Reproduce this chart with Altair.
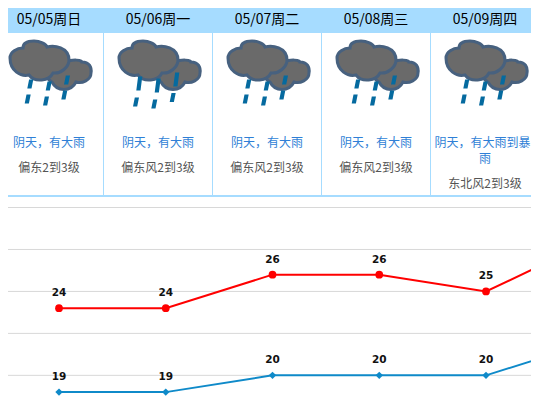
import altair as alt
import pandas as pd

dates = ["05/05周日", "05/06周一", "05/07周二", "05/08周三", "05/09周四"]
weather = ["阴天，有大雨", "阴天，有大雨", "阴天，有大雨", "阴天，有大雨"]
weather_last = ["阴天，有大雨到暴"]
weather_wrap = ["雨"]
wind = ["偏东2到3级", "偏东风2到3级", "偏东风2到3级", "偏东风2到3级", "东北风2到3级"]
high = [24, 24, 26, 26, 25, 28]
low = [19, 19, 20, 20, 20, 22]
grid_values = [20, 22.5, 25, 27.5, 30]
heavy_days = [1]
normal_days = [0, 2, 3, 4]

W, H = 523, 391
BLUE = "#a6dcff"
FONT = "Noto Sans CJK SC"

cell_x = alt.X("cell:Q", scale=alt.Scale(domain=[-41 / 109, 482 / 109], nice=False, zero=False), axis=None)
day_x = alt.X("day:Q", scale=alt.Scale(domain=[-0.4778, 4.4215], nice=False, zero=False), axis=None)
temp_y = alt.Y("t:Q", scale=alt.Scale(domain=[18.59, 41.89], nice=False, zero=False), axis=None)

CLOUD_BIG = ("M-39,-7 C-39,-13 -32,-17 -26,-17 C-26,-23 -19,-24 -15,-24 C-9,-24 -3,-21 -2,-18 "
             "C5,-20 20,-18 20,-5 C20,2 12,9 4,8 C0,16 -14,18 -20,10 C-28,12 -39,6 -39,-7 Z")
CLOUD_SMALL = ("M-3,10 C8,7 12,1 16,-3 C24,-6 33,-5 33,-3 C40,-3 43,2 42,8 C42,15 33,19 27,17 "
               "C22,27 8,27 3,17 C1,16 -2,13 -3,10 Z")


def drop(cx, cy, h):
    return f"M{cx-1.2},{cy-h} L{cx+3},{cy-h} L{cx+1.2},{cy+h} L{cx-3},{cy+h} Z "


RAIN = "".join(drop(x, y, 4.5) for x, y in [(-18.7, 19), (-0.3, 21), (18, 15), (-21.3, 34), (-3, 36), (15.3, 30)])
RAIN_HEAVY = "".join(drop(x, y, 7) for x, y in [(-18.7, 18.5), (-0.3, 20.5), (18.3, 14.5)]) + "".join(
    drop(x, y, 4.5) for x, y in [(-22, 37), (-3.7, 39), (14.7, 32.5)]
)

cells = pd.DataFrame({"cell": list(range(5)), "date": dates, "wind": wind})
bounds = pd.DataFrame({"cell": [0.5, 1.5, 2.5, 3.5]})
temps = pd.DataFrame({"day": list(range(6)), "high": high, "low": low})
grid = pd.DataFrame({"t": grid_values})
one = pd.DataFrame({"a": [0]})


def icon(days, shape, **kw):
    return alt.Chart(pd.DataFrame({"cell": days})).mark_point(shape=shape, size=4, filled=True, opacity=1, **kw).encode(
        x=cell_x, y=alt.value(57)
    )


def label(df, field, y, size, color, dx=0):
    return alt.Chart(df).mark_text(font=FONT, fontSize=size, color=color, baseline="middle", align="center", dx=dx).encode(
        x=cell_x, y=alt.value(y), text=f"{field}:N"
    )


band = alt.Chart(one).mark_rect(color=BLUE).encode(x=alt.value(0), x2=alt.value(W), y=alt.value(0), y2=alt.value(25))
bottom = alt.Chart(one).mark_rect(color=BLUE).encode(x=alt.value(0), x2=alt.value(W), y=alt.value(187), y2=alt.value(189))
seps = alt.Chart(bounds).mark_rule(color=BLUE, strokeWidth=1).encode(x=cell_x, y=alt.value(25), y2=alt.value(187))
grids = alt.Chart(grid).mark_rule(color="#d8d8d8", strokeWidth=1).encode(y=temp_y)

small = icon(list(range(5)), CLOUD_SMALL, fill="#6a6a6a", stroke="#47617f", strokeWidth=3)
big = icon(list(range(5)), CLOUD_BIG, fill="#6a6a6a", stroke="#47617f", strokeWidth=3)
rain = icon(normal_days, RAIN, fill="#056a9f", strokeWidth=0)
rain_h = icon(heavy_days, RAIN_HEAVY, fill="#056a9f", strokeWidth=0)

t_date = label(cells, "date", 12, 14, "#000000")
t_w = label(pd.DataFrame({"cell": [0, 1, 2, 3], "w": weather}), "w", 135, 12, "#2f7fd6")
t_w_last = label(pd.DataFrame({"cell": [4], "w": weather_last}), "w", 135, 12, "#2f7fd6", dx=-2.5)
t_w2 = label(pd.DataFrame({"cell": [4], "w": weather_wrap}), "w", 151, 12, "#2f7fd6")
t_wind = label(cells[cells.cell < 4], "wind", 160, 12, "#555555")
t_wind2 = label(cells[cells.cell == 4], "wind", 176, 12, "#555555")


def series(field, color, shape, size):
    base = alt.Chart(temps).transform_calculate(t=f"datum.{field}").encode(x=day_x, y=temp_y)
    line = base.mark_line(color=color, strokeWidth=2, clip=True)
    pts = base.mark_point(shape=shape, size=size, filled=True, color=color, opacity=1, clip=True)
    txt = base.transform_filter("datum.day < 5").mark_text(font="DejaVu Sans", fontSize=10.5, fontWeight="bold", color="#111111", dy=-15).encode(
        text=alt.Text("t:Q", format="d")
    )
    return [line, pts, txt]


layers = [band, bottom, seps, grids, small, big, rain, rain_h, t_date, t_w, t_w_last, t_w2, t_wind, t_wind2]
layers += series("high", "#ff0000", "circle", 60)
layers += series("low", "#0f8ac9", "diamond", 55)

chart = (
    alt.layer(*layers)
    .resolve_scale(x="independent", y="independent")
    .properties(width=W, height=H, padding=0, autosize=alt.AutoSizeParams(type="none"))
    .configure_view(stroke=None)
)
chart.save("out.html", embed_options={"renderer": "svg", "actions": False})
